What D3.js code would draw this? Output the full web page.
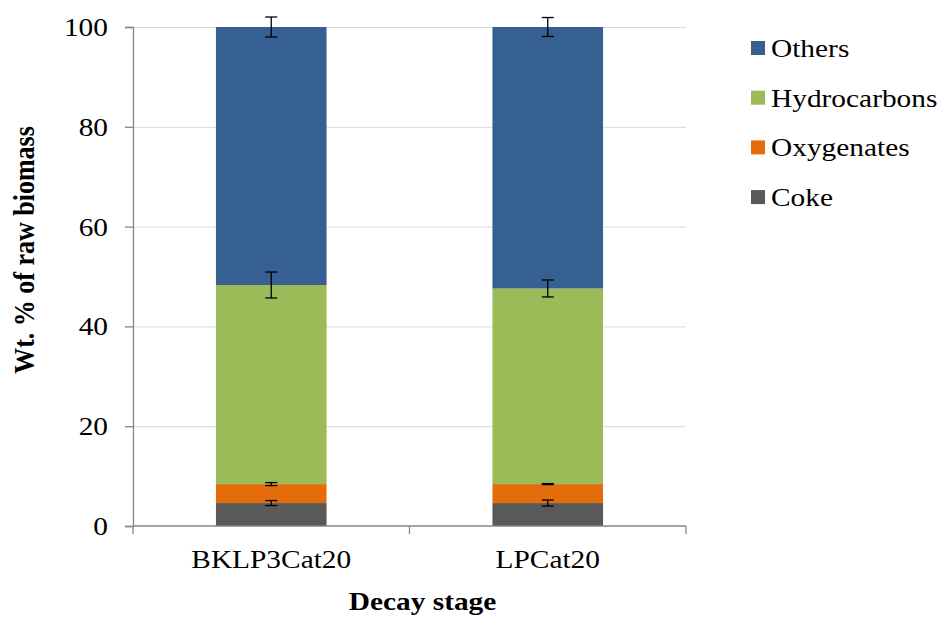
<!DOCTYPE html>
<html>
<head>
<meta charset="utf-8">
<script src="https://cdn.jsdelivr.net/npm/d3@7"></script>
<style>
  html, body { margin: 0; padding: 0; background: #fff; }
  svg { display: block; }
  svg text { font-family: "Liberation Serif", "Times New Roman", serif; }
</style>
</head>
<body>
<svg id="chart" width="940" height="617"></svg>
<script>
// Product distribution per sample (wt. % of raw biomass)
const categories = ["BKLP3Cat20", "LPCat20"];
const seriesNames = ["Coke", "Oxygenates", "Hydrocarbons", "Others"];
const coke = [4.6, 4.6];
const oxygenates = [3.8, 3.8];
const hydrocarbons = [39.9, 39.2];
const others = [51.7, 52.4];
// error bar half-widths, one per segment
const cokeErr = [0.5, 0.6];
const oxygenatesErr = [0.3, 0.1];
const hydrocarbonsErr = [2.6, 1.7];
const othersErr = [2.0, 1.9];
const yTicks = [0, 20, 40, 60, 80, 100];
const colors = ["#595959", "#E46C0A", "#9BBB59", "#376092"];

const values = [coke, oxygenates, hydrocarbons, others];
const errors = [cokeErr, oxygenatesErr, hydrocarbonsErr, othersErr];

const FONT = "Liberation Serif, Times New Roman, serif";
const FS = 26;      // base font size
const SX = 1.13;    // horizontal widening applied to the lettering

const svg = d3.select("#chart");
const margin = { left: 133, right: 254, top: 27, bottom: 91 };
const W = 940, H = 617;
const plotW = W - margin.left - margin.right;
const plotH = H - margin.top - margin.bottom;

const x = d3.scaleBand().domain(categories).range([0, plotW]).padding(0);
const y = d3.scaleLinear().domain([0, 100]).range([plotH, 0]);
const barW = x.bandwidth() * 0.4;

// text helper: places a string at (px, py) with the horizontal widening
function label(parent, px, py, str, anchor, bold) {
  return parent.append("text")
    .attr("transform", `translate(${px},${py}) scale(${SX},1)`)
    .attr("text-anchor", anchor || "start")
    .attr("font-family", FONT)
    .attr("font-size", FS)
    .attr("font-weight", bold ? "bold" : "normal")
    .attr("fill", "#000")
    .text(str);
}

const g = svg.append("g").attr("transform", `translate(${margin.left},${margin.top})`);

// gridlines
g.selectAll(".grid").data(yTicks.filter(t => t > 0)).enter().append("line")
  .attr("x1", 0).attr("x2", plotW)
  .attr("y1", d => y(d) + 0.5).attr("y2", d => y(d) + 0.5)
  .attr("stroke", "#d9d9d9").attr("stroke-width", 1);

// stacked segments
const rows = categories.map((c, i) => {
  const r = { cat: c };
  seriesNames.forEach((s, k) => { r[s] = values[k][i]; });
  return r;
});
const stacked = d3.stack().keys(seriesNames)(rows);

stacked.forEach((layer, k) => {
  g.selectAll(".seg" + k).data(layer).enter().append("rect")
    .attr("x", d => x(d.data.cat) + (x.bandwidth() - barW) / 2)
    .attr("width", barW)
    .attr("y", d => y(d[1]))
    .attr("height", d => y(d[0]) - y(d[1]))
    .attr("fill", colors[k]);
});

// error bars at the top of each segment
const capW = 12;
stacked.forEach((layer, k) => {
  layer.forEach((d, i) => {
    const cx = x(d.data.cat) + x.bandwidth() / 2;
    const e = errors[k][i];
    const top = y(d[1] + e), bot = y(d[1] - e);
    const eb = g.append("g").attr("stroke", "#000").attr("stroke-width", 1.3);
    eb.append("line").attr("x1", cx).attr("x2", cx).attr("y1", top).attr("y2", bot);
    eb.append("line").attr("x1", cx - capW / 2).attr("x2", cx + capW / 2).attr("y1", top).attr("y2", top);
    eb.append("line").attr("x1", cx - capW / 2).attr("x2", cx + capW / 2).attr("y1", bot).attr("y2", bot);
  });
});

// y axis (ticks and line from the axis generator, labels drawn separately)
const yAxis = g.append("g").call(d3.axisLeft(y).tickValues(yTicks).tickSize(8).tickFormat(""));
yAxis.select(".domain").attr("stroke", "#868686").attr("stroke-width", 1.3);
yAxis.selectAll(".tick line").attr("stroke", "#868686").attr("stroke-width", 1.3);
yTicks.forEach(t => label(g, -25, y(t) + 9, String(t), "end"));

// x axis: ticks at the category boundaries
const xAxisG = g.append("g").attr("transform", `translate(0,${plotH})`);
xAxisG.append("line").attr("x1", 0).attr("x2", plotW).attr("y1", 0).attr("y2", 0)
  .attr("stroke", "#868686").attr("stroke-width", 1.3);
const bounds = [0].concat(categories.map(c => x(c) + x.bandwidth()));
xAxisG.selectAll(".xt").data(bounds).enter().append("line")
  .attr("x1", d => d).attr("x2", d => d).attr("y1", 0).attr("y2", 8)
  .attr("stroke", "#868686").attr("stroke-width", 1.3);
categories.forEach(c => label(xAxisG, x(c) + x.bandwidth() / 2, 42, c, "middle"));

// axis titles
label(svg, margin.left + plotW / 2 + 13, 610, "Decay stage", "middle", true);
svg.append("text")
  .attr("transform", `translate(34,250) scale(${SX},1) rotate(-90)`)
  .attr("text-anchor", "middle").attr("font-family", FONT)
  .attr("font-size", FS).attr("font-weight", "bold")
  .text("Wt. % of raw biomass");

// legend (top series first)
const legendOrder = seriesNames.map((s, k) => ({ s, c: colors[k] })).reverse();
const lg = svg.append("g").attr("transform", "translate(751,48)");
legendOrder.forEach((d, i) => {
  const row = lg.append("g").attr("transform", `translate(0,${i * 49.7})`);
  row.append("rect").attr("x", 0).attr("y", -7).attr("width", 14).attr("height", 14).attr("fill", d.c);
  label(row, 20, 9, d.s, "start");
});
</script>
</body>
</html>
